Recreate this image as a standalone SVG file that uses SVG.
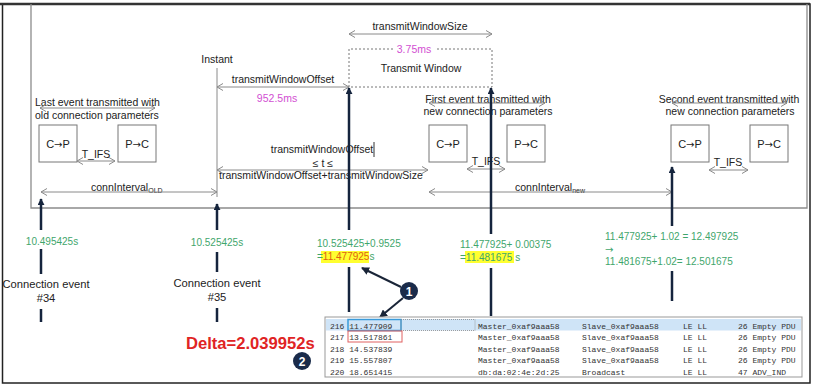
<svg xmlns="http://www.w3.org/2000/svg" width="814" height="387" viewBox="0 0 814 387">
<style>
.t{font-family:"Liberation Sans",Arial,sans-serif;font-size:10.5px;fill:#222}
.c{text-anchor:middle}
.ar{font-family:"DejaVu Sans",sans-serif;font-size:10px}
.g{font-family:"Liberation Sans",Arial,sans-serif;font-size:10px;fill:#3fa66c}
.m{fill:#d24fd2}
.ce{font-family:"Liberation Sans",Arial,sans-serif;font-size:11.2px;fill:#222;text-anchor:middle}
.box{fill:#fff;stroke:#777;stroke-width:1}
.bt{font-size:11px}
.ga{stroke:#8a8a8a;stroke-width:1;fill:none;marker-start:url(#oa);marker-end:url(#oa)}
.da{stroke:#15243d;stroke-width:2.5;fill:none}
.dah{stroke:#15243d;stroke-width:2.5;fill:none;marker-end:url(#dh)}
.mono{font-family:"Liberation Mono","DejaVu Sans Mono",monospace;font-size:8px;fill:#333}
.num{font-family:"Liberation Sans",Arial,sans-serif;font-size:12px;font-weight:bold;fill:#fff;text-anchor:middle}
</style>
<defs>
<marker id="oa" viewBox="0 0 6 8" refX="6" refY="4" markerWidth="6" markerHeight="8" orient="auto-start-reverse" markerUnits="userSpaceOnUse"><path d="M0,0.5 L6,4 L0,7.5" fill="none" stroke="#8a8a8a" stroke-width="1"/></marker>
<marker id="dh" viewBox="0 0 8 8" refX="7" refY="4" markerWidth="7" markerHeight="7" orient="auto" markerUnits="userSpaceOnUse"><path d="M0,0 L8,4 L0,8 z" fill="#15243d"/></marker>
<marker id="bh" viewBox="0 0 8 8" refX="7" refY="4" markerWidth="8" markerHeight="8" orient="auto" markerUnits="userSpaceOnUse"><path d="M0,0 L8,4 L0,8 z" fill="#1a2538"/></marker>
</defs>
<rect width="814" height="387" fill="#fff"/>
<g id="frame">
<rect x="2.5" y="4" width="807.5" height="379" fill="none" stroke="#222" stroke-width="1.5"/>
<line x1="0" y1="4" x2="810" y2="4" stroke="#333" stroke-width="2.5"/>
<path d="M31,4 V208 H807 V4" fill="none" stroke="#8c8c8c" stroke-width="1.3"/>
</g>
<g id="transmit-window">
<text class="t c" x="420" y="30">transmitWindowSize</text>
<path d="M393,49 H349 V87 H492 V49 H435" fill="none" stroke="#777" stroke-width="1" stroke-dasharray="2,2"/>
<text class="t c m" x="414" y="53">3.75ms</text>
<text class="t c" x="421" y="72">Transmit Window</text>
</g>
<g id="instant">
<text class="t c" x="217" y="63">Instant</text>
<text class="t c" x="283" y="83">transmitWindowOffset</text>
<text class="t c m" x="277" y="102">952.5ms</text>
<text class="t c" x="322" y="153">transmitWindowOffset</text>
<line x1="374" y1="142" x2="374" y2="157" stroke="#333" stroke-width="1"/>
<text class="t c" x="323" y="167">≤ t ≤</text>
<text class="t" x="219" y="179">transmitWindowOffset+transmitWindowSize</text>
</g>
<g id="last-event">
<text class="t" x="35" y="106">Last event transmitted with</text>
<text class="t" x="35" y="119">old connection parameters</text>
<rect class="box" x="39" y="125" width="38" height="37"/>
<text class="t c bt" x="58" y="148">C<tspan class="ar">→</tspan>P</text>
<rect class="box" x="118" y="125" width="38" height="37"/>
<text class="t c bt" x="137" y="148">P<tspan class="ar">→</tspan>C</text>
<text class="t c" x="96" y="158">T_IFS</text>
<text class="t" x="91" y="191">connInterval<tspan style="font-size:7px" dy="2">OLD</tspan></text>
</g>
<g id="first-event">
<text class="t c" x="488" y="103">First event transmitted with</text>
<text class="t c" x="488" y="115">new connection parameters</text>
<rect class="box" x="429" y="125" width="38" height="37"/>
<text class="t c bt" x="448" y="148">C<tspan class="ar">→</tspan>P</text>
<rect class="box" x="507" y="125" width="38" height="37"/>
<text class="t c bt" x="526" y="148">P<tspan class="ar">→</tspan>C</text>
<text class="t c" x="486" y="165">T_IFS</text>
<text class="t" x="515" y="191">connInterval<tspan style="font-size:7px" dy="2">new</tspan></text>
</g>
<g id="second-event">
<text class="t c" x="729" y="103">Second event transmitted with</text>
<text class="t c" x="730" y="115">new connection parameters</text>
<rect class="box" x="671" y="125" width="38" height="37"/>
<text class="t c bt" x="690" y="148">C<tspan class="ar">→</tspan>P</text>
<rect class="box" x="750" y="125" width="38" height="37"/>
<text class="t c bt" x="769" y="148">P<tspan class="ar">→</tspan>C</text>
<text class="t c" x="728" y="166">T_IFS</text>
</g>
<g id="connectors">
<line class="ga" x1="349" y1="34" x2="492" y2="34"/>
<line x1="217" y1="68" x2="217" y2="197" stroke="#8a8a8a" stroke-width="1"/>
<line class="ga" x1="217" y1="87" x2="349" y2="87"/>
<line class="ga" x1="40" y1="108" x2="155" y2="108"/>
<line class="ga" x1="77" y1="161" x2="115" y2="161"/>
<line class="ga" x1="41" y1="192" x2="217" y2="192"/>
<line class="ga" x1="217" y1="170" x2="428" y2="170"/>
<line class="ga" x1="429" y1="103" x2="545" y2="103"/>
<line class="ga" x1="467" y1="169" x2="505" y2="169"/>
<line class="ga" x1="429" y1="192" x2="672" y2="192"/>
<line class="ga" x1="672" y1="103" x2="787" y2="103"/>
<line class="ga" x1="709" y1="170" x2="748" y2="170"/>
<line class="dah" x1="41" y1="230" x2="41" y2="199"/>
<line class="da" x1="41" y1="249" x2="41" y2="274"/>
<line class="da" x1="41" y1="309" x2="41" y2="322"/>
<line class="dah" x1="217" y1="230" x2="217" y2="204"/>
<line class="da" x1="217" y1="252" x2="217" y2="272"/>
<line class="da" x1="217" y1="308" x2="217" y2="322"/>
<line class="dah" x1="349" y1="230" x2="349" y2="88"/>
<line class="da" x1="349" y1="267" x2="349" y2="312"/>
<line class="dah" x1="491" y1="234" x2="491" y2="88"/>
<line class="da" x1="491" y1="268" x2="491" y2="316"/>
<line class="dah" x1="672" y1="226" x2="672" y2="167"/>
<line class="da" x1="672" y1="271" x2="672" y2="301"/>
<line x1="401" y1="287" x2="362" y2="268" stroke="#1a2538" stroke-width="2" marker-end="url(#bh)"/>
<line x1="403" y1="298" x2="380" y2="317" stroke="#1a2538" stroke-width="2" marker-end="url(#bh)"/>
</g>
<g id="timestamps">
<text class="g c" x="52" y="245">10.495425s</text>
<text class="g c" x="217" y="246">10.525425s</text>
<text class="g" x="317" y="247">10.525425+0.9525</text>
<rect x="321" y="251" width="48" height="12" fill="#ffff30"/>
<text class="g" x="317" y="260">=<tspan fill="#e0620f">11.477925</tspan>s</text>
<text class="g" x="460" y="248">11.477925+ 0.00375</text>
<rect x="465" y="251" width="49" height="12" fill="#ffff30"/>
<text class="g" x="460" y="261">=11.481675 s</text>
<text class="g" x="605" y="240">11.477925+ 1.02 = 12.497925</text>
<text class="g" x="605" y="253"><tspan class="ar">→</tspan></text>
<text class="g" x="605" y="265">11.481675+1.02= 12.501675</text>
</g>
<g id="events">
<text class="ce" x="46" y="288">Connection event</text>
<text class="ce" x="46" y="302">#34</text>
<text class="ce" x="217" y="287">Connection event</text>
<text class="ce" x="217" y="301">#35</text>
</g>
<g id="badges">
<circle cx="409" cy="291" r="9" fill="#1a2b4a"/>
<text class="num" x="409" y="295.5">1</text>
<circle cx="302" cy="361" r="9" fill="#1a2b4a"/>
<text class="num" x="302" y="365.5">2</text>
<text x="186" y="349" style="font-family:'Liberation Sans',Arial,sans-serif;font-size:16.6px;font-weight:bold;fill:#e02424">Delta=2.039952s</text>
</g>
<g id="packet-table">
<rect x="325" y="317" width="477" height="60" fill="#fff" stroke="#999" stroke-width="1"/>
<rect x="326" y="319" width="475" height="11.5" fill="#cfe4f7"/>
<rect x="348" y="319.5" width="53" height="11" fill="none" stroke="#3a9ad9" stroke-width="1.5"/>
<rect x="401" y="319.5" width="74" height="11" fill="none" stroke="#888" stroke-width="0.8" stroke-dasharray="1,1"/>
<rect x="348" y="331" width="54" height="11" fill="none" stroke="#e06060" stroke-width="1"/>
<text class="mono" y="328.5"><tspan x="330">216 11.477909</tspan><tspan x="478">Master_0xaf9aaa58</tspan><tspan x="582">Slave_0xaf9aaa58</tspan><tspan x="683">LE LL</tspan><tspan x="738">26 Empty PDU</tspan></text>
<text class="mono" y="340"><tspan x="330">217 13.517861</tspan><tspan x="478">Master_0xaf9aaa58</tspan><tspan x="582">Slave_0xaf9aaa58</tspan><tspan x="683">LE LL</tspan><tspan x="738">26 Empty PDU</tspan></text>
<text class="mono" y="351.5"><tspan x="330">218 14.537839</tspan><tspan x="478">Master_0xaf9aaa58</tspan><tspan x="582">Slave_0xaf9aaa58</tspan><tspan x="683">LE LL</tspan><tspan x="738">26 Empty PDU</tspan></text>
<text class="mono" y="363"><tspan x="330">219 15.557807</tspan><tspan x="478">Master_0xaf9aaa58</tspan><tspan x="582">Slave_0xaf9aaa58</tspan><tspan x="683">LE LL</tspan><tspan x="738">26 Empty PDU</tspan></text>
<text class="mono" y="374.5"><tspan x="330">220 18.651415</tspan><tspan x="478">db:da:02:4e:2d:25</tspan><tspan x="582">Broadcast</tspan><tspan x="683">LE LL</tspan><tspan x="738">47 ADV_IND</tspan></text>
</g>
</svg>
